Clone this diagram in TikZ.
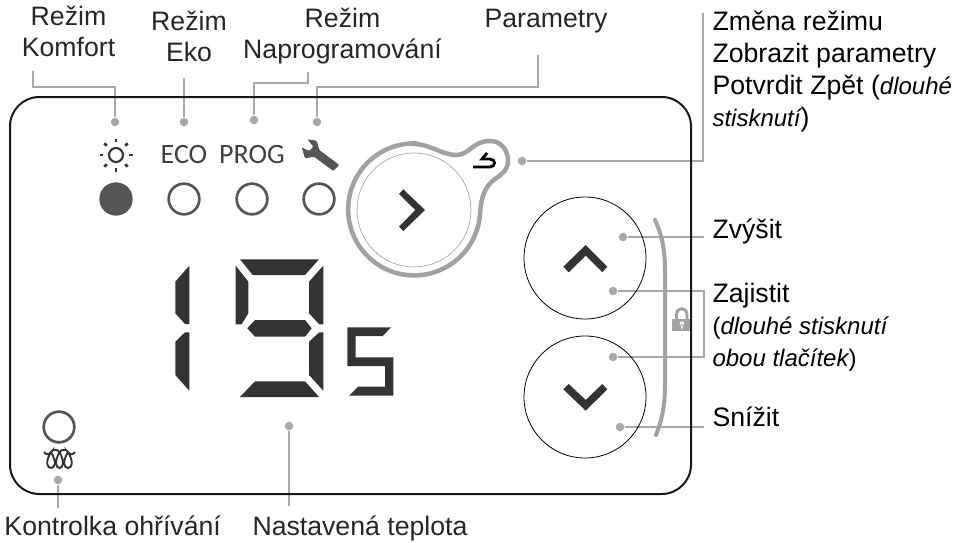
\documentclass[tikz,border=0pt]{standalone}
\usepackage{fontspec}
\setmainfont{Liberation Sans}
\newfontfamily\panelfont{Carlito}
\definecolor{leadgray}{HTML}{A8A8AC}
\definecolor{ringgray}{HTML}{A2A2A2}
\definecolor{lcdgray}{HTML}{333333}
\definecolor{ledgray}{HTML}{555555}
\tikzset{every picture/.style={line width=0.75pt}}
\tikzset{
  leader/.style={draw=leadgray,line width=1pt},
  dot/.style={circle,fill=leadgray,inner sep=0pt,minimum size=6.4pt},
  led/.style={circle,draw=ledgray,line width=2pt,inner sep=0pt,minimum size=23pt},
  btn/.style={circle,draw=black,line width=0.6pt,inner sep=0pt,minimum size=91.5pt},
  lcd/.style={fill=lcdgray},
  lbl/.style={inner sep=0pt,text=black!85,align=center,font=\fontsize{20}{23.25}\selectfont},
  lblr/.style={inner sep=0pt,text=black,align=left,font=\fontsize{20}{23.75}\selectfont},
  paneltext/.style={inner sep=0pt,text=black!75,font=\panelfont\fontsize{21}{21}\selectfont}
}
\begin{document}
\begin{tikzpicture}[x=0.75pt,y=0.75pt,yscale=-1,xscale=1]
\useasboundingbox (0,0) rectangle (959,542);

%Leader dots
\node[dot] (dotkomfort) at (115,122) {};
\node[dot] (doteko) at (184,122) {};
\node[dot] (dotprog) at (254,120) {};
\node[dot] (dotparam) at (317,122) {};
\node[dot] (dotmode) at (522,161) {};
\node[dot] (dotplus) at (623,237) {};
\node[dot] (dotlockup) at (613,291) {};
\node[dot] (dotlockdown) at (613,357) {};
\node[dot] (dotminus) at (620,427) {};
\node[dot] (dotheat) at (58,480) {};
\node[dot] (dottemp) at (289,426) {};
\coordinate (bendkomfort) at (33,87);
\coordinate (endkomfort) at (33,71);
\coordinate (endeko) at (184,78);
\coordinate (bendprog) at (308,83);
\coordinate (endprog) at (308,72);
\coordinate (bendparam) at (538,87);
\coordinate (endparam) at (538,55);
\coordinate (bendmode) at (703,161);
\coordinate (endmode) at (703,13);
\coordinate (endplus) at (704,237);
\coordinate (bendlockup) at (704,291);
\coordinate (bendlockdown) at (704,357);
\coordinate (endminus) at (704,427);
\coordinate (endheat) at (58,508);
\coordinate (endtemp) at (289,506);

%Straight Lines
\draw[leader] (dotkomfort) |- (bendkomfort) -- (endkomfort);
\draw[leader] (doteko) -- (endeko);
\draw[leader] (dotprog) |- (bendprog) -- (endprog);
\draw[leader] (dotparam) |- (bendparam) -- (endparam);
\draw[leader] (dotmode) -- (bendmode) -- (endmode);
\draw[leader] (dotplus) -- (endplus);
\draw[leader] (dotlockup) -- (bendlockup) -- (bendlockdown) -- (dotlockdown);
\draw[leader] (dotminus) -- (endminus);
\draw[leader] (dotheat) -- (endheat);
\draw[leader] (dottemp) -- (endtemp);

%Shape: Lock
\fill[ringgray] (672,319) rectangle (691,331);
\draw[ringgray,line width=2.2pt] (676.5,319) -- (676.5,315) .. controls (676.5,306.5) and (687,306.5) .. (687,315) -- (687,319);
\fill[white] (681.8,323.5) circle (2.2) (681,323.5) rectangle (682.6,328.5);

%Shape: Frame
\draw[black!90,line width=1.5pt,rounded corners=22pt] (10,97) rectangle (691,494);

%Shape: Sun
\draw[lcdgray,line width=1.6pt] (116,155) circle (7);
\foreach \a in {0,45,...,315}
  \draw[lcdgray,line width=2pt] (116,155) ++(\a:13) -- ++(\a:3.5);

%Shape: Wrench
\fill[ledgray,rounded corners=0.8pt] (307.3,139.3) -- (316.7,140.7) -- (319.3,150) -- (339.3,165) -- (333.3,171) -- (314,156.7) -- (305,158.3) -- (301.7,147.3) -- (309.3,151) -- (313.3,146.7) -- cycle;

%Shape: Circles
\node[led,fill=ledgray] (ledkomfort) at (116,199) {};
\node[led] (ledeko) at (184,199) {};
\node[led] (ledprog) at (252,199) {};
\node[led] (ledparam) at (319,199) {};
\node[led] (ledheat) at (59,427) {};

%Shape: Heater coil
\draw[lcdgray,line width=1.4pt] (44,452) .. controls (46,455) and (49,455) .. (51,452) .. controls (45,462) and (47,468) .. (51,468) .. controls (55,468) and (57,462) .. (51,452) .. controls (53,449) and (57,449) .. (59.5,452) .. controls (54,462) and (56,468) .. (59.5,468) .. controls (63,468) and (65,462) .. (59.5,452) .. controls (62,449) and (66,449) .. (68,452) .. controls (62,462) and (64,468) .. (68,468) .. controls (72,468) and (74,462) .. (68,452) .. controls (70,455) and (73,455) .. (75,452);

%Shape: Select button
\draw[ringgray,line width=3.4pt] (414,144) .. controls (430,144) and (442,155) .. (456,155) .. controls (470,155) and (472,141) .. (490,141) .. controls (501,141) and (508,150) .. (508,161) .. controls (508,170) and (501,175) .. (495,179) .. controls (485,186) and (481,197) .. (480,214) arc (4:270:66) -- cycle;
\node[circle,draw=ringgray,line width=0.5pt,inner sep=0pt,minimum size=85.5pt] (btnselect) at (414,210) {};
\fill[lcdgray] (403.3,189.3) -- (425,210) -- (403.3,231) -- (399,226.7) -- (415.3,210) -- (399,194) -- cycle;
\draw[black,line width=2.1pt] (473,167) -- (490,167) .. controls (496,167) and (496,159) .. (490,159) -- (482,159) -- (487,153);

%Shape: Up and down buttons
\node[btn] (btnup) at (585,258) {};
\node[btn] (btndown) at (585,397) {};
\fill[lcdgray] (585.7,245) -- (607.3,266.7) -- (602.3,272.3) -- (585.7,255.7) -- (568.7,272.3) -- (563.3,266.7) -- cycle;
\fill[lcdgray] (563.3,389.3) -- (568.7,384) -- (585.7,400) -- (602.3,384) -- (607.3,389.3) -- (585.7,410.7) -- cycle;
%Curve Lines
\draw[ringgray,line width=3pt,line cap=round] (655,220) .. controls (662,235) and (665,250) .. (665,270) -- (665,385) .. controls (665,405) and (662,420) .. (656,435);

%Shape: Display digits
\fill[lcd] (189.3,265.7) -- (175.3,281.7) -- (175.3,313.3) -- (185,324) -- (189.3,324) -- cycle;
\fill[lcd] (189.3,332.3) -- (185,332.3) -- (175.3,341.7) -- (175.3,375) -- (189.3,390.7) -- cycle;
\fill[lcd] (240,259.3) -- (319,259.3) -- (305,275) -- (252.7,275) -- cycle;
\fill[lcd] (235.7,265.7) -- (248.3,281.7) -- (248.3,313.3) -- (241.7,324.3) -- (235.7,324.3) -- cycle;
\fill[lcd] (323.3,265.7) -- (309,281.7) -- (309,313.3) -- (319.3,324.3) -- (323.3,324.3) -- cycle;
\fill[lcd] (247.3,328.3) -- (255,320) -- (305,320) -- (311.7,328.3) -- (305,336.7) -- (255,336.7) -- cycle;
\fill[lcd] (323.3,332.3) -- (319.3,332.3) -- (309,341.7) -- (309,375) -- (323.3,390.7) -- cycle;
\fill[lcd] (255,381.3) -- (305,381.3) -- (319,397) -- (240,397) -- cycle;
\fill[lcd] (347.3,327.3) -- (391,327.3) -- (382.7,336) -- (355.7,336) -- (355.7,357.3) -- (393.3,357.3) -- (393.3,395.7) -- (349,395.7) -- (358.3,386.7) -- (385,386.7) -- (385,366) -- (347.3,366) -- cycle;

% Text Node
\node[paneltext,anchor=base] (txteco) at (184,163) {ECO};
\node[paneltext,anchor=base] (txtprog) at (252,163) {PROG};
% Text Node
\node[lbl,anchor=base] (lblkomfort) at (68.5,56) {Režim\\Komfort};
\node[lbl,anchor=base] (lbleko) at (189,61) {Režim\\Eko};
\node[lbl,anchor=base] (lblprog) at (342.5,59) {Režim\\Naprogramování};
\node[lbl,anchor=base] (lblparam) at (546,28) {Parametry};
\node[lblr,anchor=base west] (lblmode) at (712,126) {Změna režimu\\Zobrazit parametry\\Potvrdit Zpět ({\itshape\fontsize{18}{23.75}\selectfont dlouhé}\\{\itshape\fontsize{18}{23.75}\selectfont stisknutí})};
\node[lblr,anchor=base west] (lblplus) at (712,238) {Zvýšit};
\node[lblr,anchor=base west] (lbllock) at (712,366) {Zajistit\\{\fontsize{18}{23.75}\selectfont(\itshape dlouhé stisknutí}\\{\fontsize{18}{23.75}\selectfont\itshape obou tlačítek\upshape)}};
\node[lblr,anchor=base west] (lblminus) at (712,426) {Snížit};
\node[lbl,anchor=base west] (lblheat) at (4,535) {Kontrolka ohřívání};
\node[lbl,anchor=base west] (lbltemp) at (252,535) {Nastavená teplota};

\end{tikzpicture}
\end{document}
